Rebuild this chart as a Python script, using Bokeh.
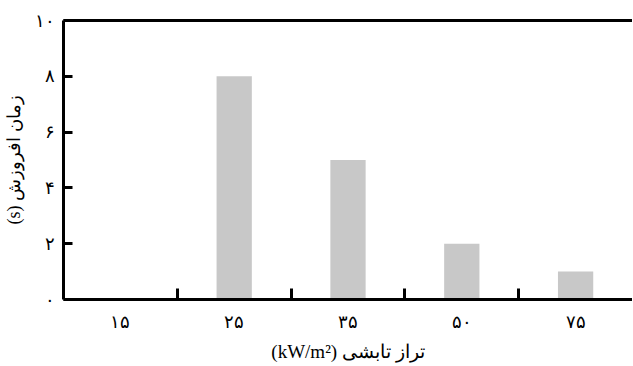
import numpy as np
from bokeh.plotting import figure
from bokeh.models import Range1d, FixedTicker, LinearAxis
from bokeh.embed import file_html
from bokeh.resources import INLINE

categories = ["۱۵", "۲۵", "۳۵", "۵۰", "۷۵"]
ignition_time = [0, 8, 5, 2, 1]
y_ticks = [0, 2, 4, 6, 8, 10]
y_tick_labels = ["۰", "۲", "۴", "۶", "۸", "۱۰"]

n = len(categories)
xc = list(np.arange(n) + 0.5)

p = figure(frame_width=569, frame_height=279, output_backend="svg", toolbar_location=None,
           x_range=Range1d(0, n), y_range=Range1d(0, 10),
           min_border_left=56, min_border_right=0, min_border_top=20, min_border_bottom=59)
p.outline_line_color = None
p.xgrid.visible = False
p.ygrid.visible = False
p.background_fill_color = "white"
p.border_fill_color = "white"

p.vbar(x=xc, top=ignition_time, width=0.31, fill_color="#c8c8c8", line_color=None)

font = "Liberation Serif"
xa = p.xaxis[0]
xa.ticker = FixedTicker(ticks=xc, minor_ticks=list(np.arange(1, n)))
xa.major_label_overrides = {float(x): c for x, c in zip(xc, categories)}
xa.major_tick_in = 0
xa.major_tick_out = 0
xa.minor_tick_in = 11
xa.minor_tick_out = 0
xa.minor_tick_line_width = 3
xa.minor_tick_line_color = "black"
xa.axis_line_width = 3
xa.axis_line_color = "black"
xa.major_label_standoff = 12
xa.major_label_text_font = font
xa.major_label_text_font_size = "18px"
xa.major_label_text_color = "black"
xa.axis_label = "(kW/m²) تراز تابشی"
xa.axis_label_text_font = font
xa.axis_label_text_font_size = "19px"
xa.axis_label_text_font_style = "normal"
xa.axis_label_text_color = "black"
xa.axis_label_standoff = 6

ya = p.yaxis[0]
ya.ticker = FixedTicker(ticks=y_ticks, minor_ticks=[])
ya.major_label_overrides = {t: l for t, l in zip(y_ticks, y_tick_labels)}
ya.major_tick_in = 9
ya.major_tick_out = 0
ya.major_tick_line_width = 3
ya.axis_line_width = 3
ya.axis_line_color = "black"
ya.major_label_standoff = 9
ya.major_label_text_font = font
ya.major_label_text_font_size = "18px"
ya.major_label_text_color = "black"
ya.axis_label = "(s) زمان افروزش"
ya.axis_label_text_font = font
ya.axis_label_text_font_size = "18px"
ya.axis_label_text_font_style = "normal"
ya.axis_label_text_color = "black"
ya.axis_label_standoff = 8

top = LinearAxis(ticker=FixedTicker(ticks=[]), major_label_text_font_size="0px",
                 axis_line_width=3, axis_line_color="black",
                 major_tick_in=0, major_tick_out=0, minor_tick_in=0, minor_tick_out=0)
p.add_layout(top, "above")

open("out.html", "w").write(file_html(p, INLINE))
